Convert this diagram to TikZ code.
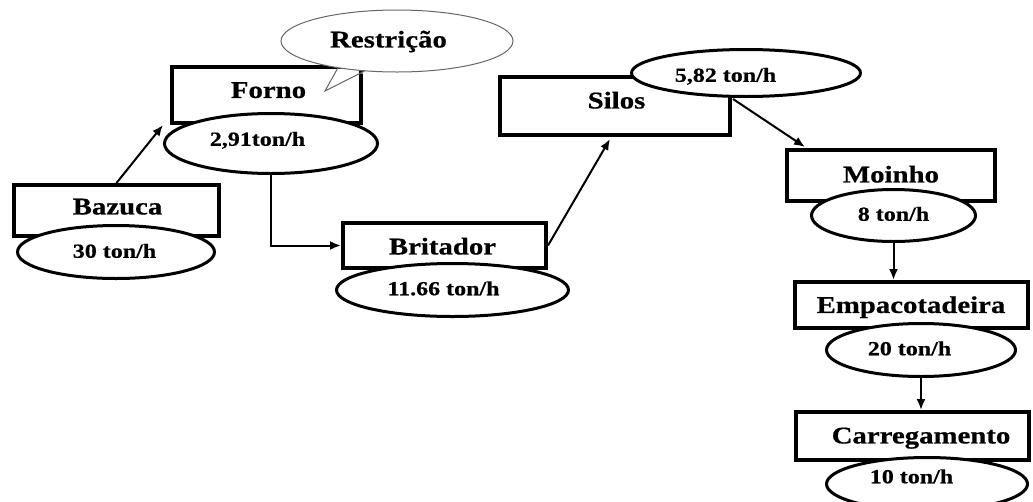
\documentclass[tikz,border=0pt]{standalone}
\usepackage{fontspec}
\setmainfont{Liberation Serif}[FakeStretch=1.2,FakeBold=0.6]
\usetikzlibrary{shapes.geometric,arrows.meta}
\begin{document}
\begin{tikzpicture}[x=1pt,y=-1pt,
  procbox/.style={draw,line width=4pt,fill=white,inner sep=0pt},
  rateell/.style={draw,ellipse,line width=3pt,fill=white,inner sep=0pt},
  mainlbl/.style={font=\fontsize{24}{24}\selectfont\bfseries,text height=15.9pt,text depth=0pt,inner sep=0pt},
  ratelbl/.style={font=\fontsize{20}{20}\selectfont\bfseries,text height=13.5pt,text depth=0pt,inner sep=0pt},
  calloutline/.style={draw=black!60,line width=1pt},
  flow/.style={line width=2pt,-{Latex[length=11pt,width=9pt]}}]
\useasboundingbox (0,0) rectangle (1033,501);
% boxes
\node[procbox,minimum width=205pt,minimum height=51pt] (bazbox) at (116.5,210.5) {};
\node[procbox,minimum width=189pt,minimum height=56pt] (fornobox) at (266.5,95) {};
\node[procbox,minimum width=203pt,minimum height=45pt] (britbox) at (444.5,245.5) {};
\node[procbox,minimum width=230pt,minimum height=58pt] (silosbox) at (615,106) {};
\node[procbox,minimum width=208pt,minimum height=51pt] (moinbox) at (891,175.5) {};
\node[procbox,minimum width=233pt,minimum height=46pt] (empbox) at (911.5,305) {};
\node[procbox,minimum width=233pt,minimum height=48pt] (carbox) at (912.5,436) {};
% callout
\node[ellipse,calloutline,fill=white,inner sep=0pt,minimum width=232pt,minimum height=62pt] (restr) at (397,41) {};
\coordinate (tailA) at (338,67.7);
\coordinate (tailtip) at (325,91);
\coordinate (tailB) at (365,70.8);
\fill[white] (tailA) -- (tailtip) -- (tailB) -- ([yshift=-3pt]tailB) -- ([yshift=-3pt]tailA) -- cycle;
\draw[calloutline,line join=miter] (tailA) -- (tailtip) -- (tailB);
\node[mainlbl] (restrt) at (388.5,39.5) {Restrição};
% ellipses
\node[rateell,minimum width=197pt,minimum height=53pt] (bazell) at (116,252) {};
\node[rateell,minimum width=213pt,minimum height=60pt] (fornoell) at (271,143.5) {};
\node[rateell,minimum width=232pt,minimum height=53pt] (britell) at (452.5,290) {};
\node[rateell,minimum width=229pt,minimum height=47pt] (silosell) at (746,73) {};
\node[rateell,minimum width=164pt,minimum height=52pt] (moinell) at (893.5,215.5) {};
\node[rateell,minimum width=189pt,minimum height=53pt] (empell) at (921,350) {};
\node[rateell,minimum width=201pt,minimum height=53pt] (carell) at (927,484) {};
% labels
\node[mainlbl] (bazt) at (117.5,206.5) {Bazuca};
\node[mainlbl] (fornot) at (268.5,90) {Forno};
\node[mainlbl] (britt) at (442.5,246.5) {Britador};
\node[mainlbl] (silost) at (616.5,100.5) {Silos};
\node[mainlbl] (moint) at (891,174.5) {Moinho};
\node[mainlbl] (empt) at (911,305) {Empacotadeira};
\node[mainlbl] (cart) at (921,435.5) {Carregamento};
\node[ratelbl] (bazr) at (114.5,251) {30 ton/h};
\node[ratelbl] (fornor) at (257.5,139) {2,91ton/h};
\node[ratelbl] (britr) at (443.5,288.5) {11.66 ton/h};
\node[ratelbl] (silosr) at (725.5,75) {5,82 ton/h};
\node[ratelbl] (moinr) at (893.5,214) {8 ton/h};
\node[ratelbl] (empr) at (909.5,348.5) {20 ton/h};
\node[ratelbl] (carr) at (911.5,476.5) {10 ton/h};
% connectors
\coordinate (tipforno) at (163,125);
\coordinate (tipsilos) at (610,139);
\coordinate (startsilos) at (733,99);
\coordinate (tipmoin) at (805,147);
\draw[flow] (bazbox.north) -- (tipforno);
\draw[flow] (fornoell.south) |- (britbox.west);
\draw[flow] (britbox.east) -- (tipsilos);
\draw[flow] (startsilos) -- (tipmoin);
\draw[flow] (moinell.south) -- (moinell.south |- empbox.north);
\draw[flow] (empell.south) -- (empell.south |- carbox.north);
\end{tikzpicture}
\end{document}
